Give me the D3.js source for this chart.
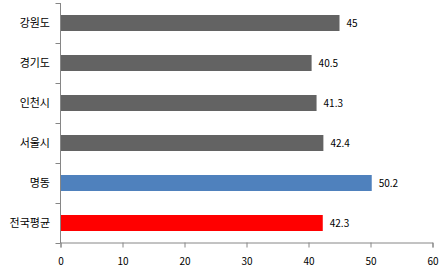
<!DOCTYPE html>
<html><head><meta charset="utf-8">
<script src="https://cdn.jsdelivr.net/npm/d3@7"></script>
<style>body{margin:0;background:#fff}svg{display:block}text{font-family:"Noto Sans CJK KR","Noto Sans",sans-serif}</style>
</head><body>
<script>
const categories = ["강원도","경기도","인천시","서울시","명동","전국평균"];
const values = [45, 40.5, 41.3, 42.4, 50.2, 42.3];
const colors = ["#636363","#636363","#636363","#636363","#4F81BD","#FF0000"];
const xTicks = [0,10,20,30,40,50,60];

const W=444,H=272;
const svg=d3.select("body").append("svg").attr("width",W).attr("height",H);
const x=d3.scaleLinear().domain([0,60]).range([60.5,432.5]);
const y=d3.scaleBand().domain(categories).range([3,243]).paddingInner(0.6).paddingOuter(0.3);
const axisColor="#868686";

// bars
svg.selectAll("rect.bar").data(categories).join("rect")
  .attr("x",x(0)).attr("y",d=>y(d))
  .attr("width",(d,i)=>x(values[i])-x(0)).attr("height",y.bandwidth())
  .attr("fill",(d,i)=>colors[i]);

// x axis
const xa=svg.append("g").attr("transform","translate(0,242.5)")
  .call(d3.axisBottom(x).tickValues(xTicks).tickSize(5).tickPadding(10));
xa.select(".domain").attr("stroke",axisColor);
xa.selectAll(".tick line").attr("stroke",axisColor);
xa.selectAll(".tick text").attr("font-size","10px").attr("fill","#000").attr("font-family","'Noto Sans',sans-serif");

// y axis
const yb=d3.scaleBand().domain(categories).range([3,243]);
const ya=svg.append("g").attr("transform","translate(60.5,0)");
ya.append("line").attr("x1",0).attr("x2",0).attr("y1",3).attr("y2",243).attr("stroke",axisColor);
const bounds=[3].concat(categories.map(c=>yb(c)+yb.bandwidth()));
ya.selectAll("line.t").data(bounds).join("line").attr("class","t")
  .attr("x1",-5).attr("x2",0).attr("y1",d=>Math.round(d)+0.5).attr("y2",d=>Math.round(d)+0.5).attr("stroke",axisColor);
svg.selectAll("text.cat").data(categories).join("text").attr("class","cat")
  .attr("x",50).attr("y",d=>yb(d)+yb.bandwidth()/2).attr("dy","0.35em")
  .attr("text-anchor","end").attr("font-size","11px").attr("fill","#000").text(d=>d);

// value labels
svg.selectAll("text.val").data(categories).join("text").attr("class","val")
  .attr("x",(d,i)=>x(values[i])+7).attr("y",d=>y(d)+y.bandwidth()/2).attr("dy","0.35em")
  .attr("font-size","10px").attr("fill","#000").attr("font-family","'Noto Sans',sans-serif")
  .text((d,i)=>values[i]);
</script>
</body></html>
